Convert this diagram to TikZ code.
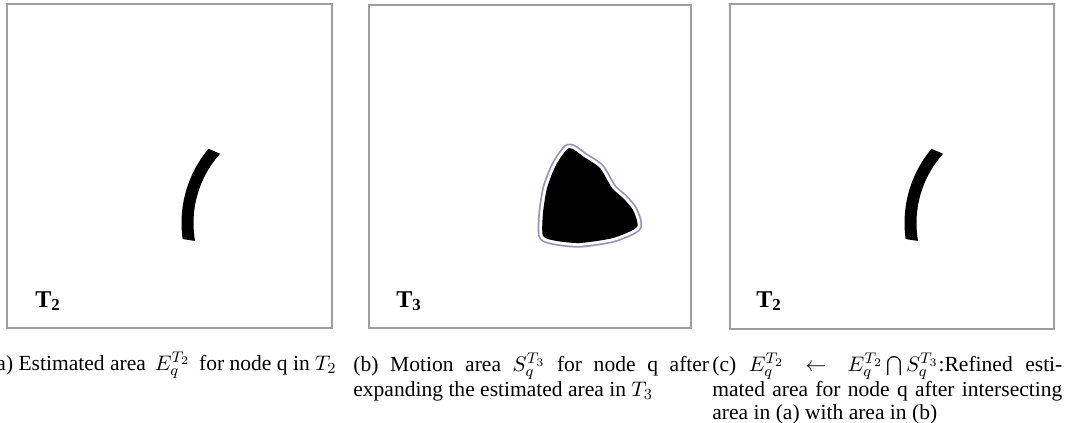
\documentclass[tikz,border=0pt]{standalone}
\usepackage[no-math]{fontspec}
\setmainfont{Liberation Serif}
\begin{document}
\begin{tikzpicture}[x=0.52pt,y=-0.52pt,
  frame/.style={draw=black!38,line width=0.7pt},
  tlabel/.style={anchor=base west,inner sep=0pt,font=\fontsize{12.5}{14}\selectfont\bfseries},
  capfont/.style={font=\fontsize{11.2}{12}\selectfont},
  caption/.style={capfont,inner sep=0pt,align=justify},
  region/.style={fill=black},
  ringouter/.style={draw={rgb,255:red,150;green,145;blue,195},line width=4.8pt,line join=round},
  ringinner/.style={draw=white,line width=3.0pt,line join=round}]
\useasboundingbox (0,0) rectangle (1068,423);
% frames
\draw[frame] (7,4) rectangle (332,328);
\draw[frame] (369,5) rectangle (691,328);
\draw[frame] (730,4) rectangle (1054,329);
% panel (a) arc
\fill[region] plot[domain=172:220,samples=30,smooth] ({297+115.5*cos(\x)},{223+115.5*sin(\x)})
  -- plot[domain=222:170,samples=30,smooth] ({297+103.5*cos(\x)},{223+103.5*sin(\x)}) -- cycle;
% panel (c) arc
\fill[region] plot[domain=172:220,samples=30,smooth] ({1020+115.5*cos(\x)},{223+115.5*sin(\x)})
  -- plot[domain=222:170,samples=30,smooth] ({1020+103.5*cos(\x)},{223+103.5*sin(\x)}) -- cycle;
% panel (b) blob
\def\blob{plot[smooth cycle,tension=0.4] coordinates {(569,148) (584,157) (600,168) (612,188) (623,198) (633,210) (637,227) (613,238) (580,243) (557,241) (543,236) (543,213) (547,188) (556,165)}}
\draw[ringouter] \blob;
\draw[ringinner] \blob;
\fill[region] \blob;
% labels
\node[tlabel] (la) at (35,307) {T\textsubscript{2}};
\node[tlabel] (lb) at (396,307) {T\textsubscript{3}};
\node[tlabel] (lc) at (756,307) {T\textsubscript{2}};
% captions
\node[capfont,inner sep=0pt,anchor=base east] (ca) at (337,370) {(a) Estimated area \,$E_q^{T_2}$\, for node q in $T_2$};
\node[caption,text width=185pt,anchor=north west] (cb) at (353,353) {(b) Motion area $S_q^{T_3}$ for node q after\linebreak expanding the estimated area in $T_3$};
\node[caption,text width=182pt,anchor=north west] (cc) at (712,353) {(c) $E_q^{T_2} \leftarrow E_q^{T_2}\bigcap S_q^{T_3}$:Refined esti-\linebreak mated area for node q after intersecting\linebreak area in (a) with area in (b)};
\end{tikzpicture}
\end{document}
